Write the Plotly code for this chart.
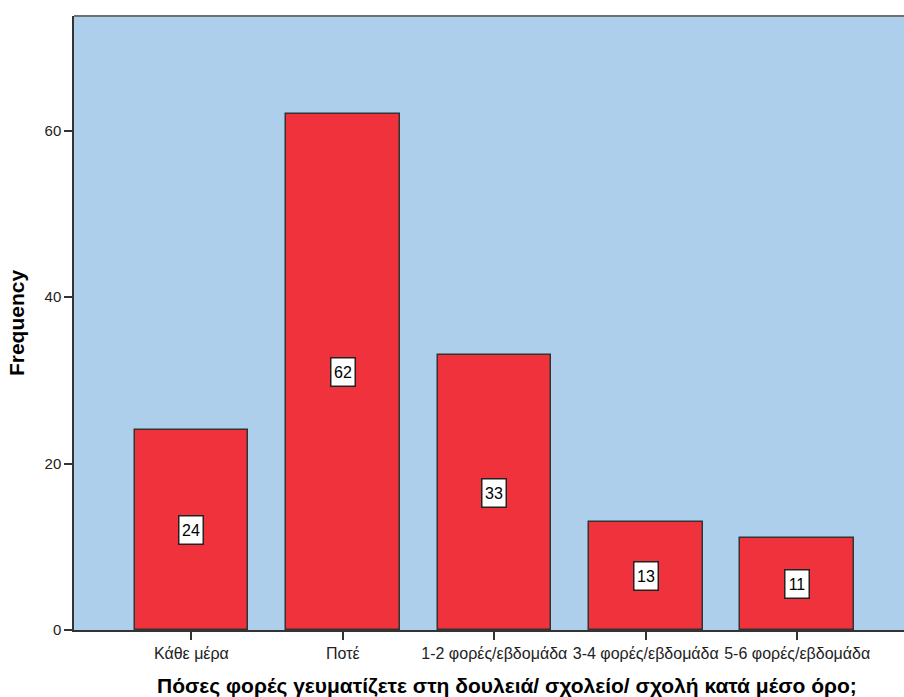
import plotly.graph_objects as go

categories = ["Κάθε μέρα", "Ποτέ", "1-2 φορές/εβδομάδα", "3-4 φορές/εβδομάδα", "5-6 φορές/εβδομάδα"]
frequency = [24, 62, 33, 13, 11]
y_ticks = [0, 20, 40, 60]
x_title = "Πόσες φορές γευματίζετε στη δουλειά/ σχολείο/ σχολή κατά μέσο όρο;"

x_pos = list(range(len(categories)))
FONT = "Arial, Liberation Sans, sans-serif"

fig = go.Figure()
fig.add_trace(go.Bar(
    x=x_pos,
    y=frequency,
    width=0.75,
    marker=dict(color="#EF323B", line=dict(color="#333333", width=1.5)),
    hoverinfo="skip",
))

# value boxes at the middle of each bar
for xi, v in zip(x_pos, frequency):
    fig.add_annotation(
        x=xi, y=v / 2, text=str(v), showarrow=False,
        font=dict(family=FONT, size=16, color="black"),
        width=18, height=22,
        bgcolor="white", bordercolor="#222222", borderwidth=1.5, borderpad=2.5,
    )

# x-axis title placed as a free annotation below the tick labels
fig.add_annotation(
    xref="paper", yref="paper", x=0.522, y=-0.091,
    xanchor="center", yanchor="middle", showarrow=False,
    text="<b>" + x_title + "</b>",
    font=dict(family=FONT, size=21, color="black"),
)

fig.update_layout(
    width=904, height=697,
    margin=dict(l=74, r=0, t=16, b=67),
    paper_bgcolor="white",
    plot_bgcolor="#ADCFEC",
    showlegend=False,
    bargap=0,
    xaxis=dict(
        range=[-0.775, 4.705],
        tickmode="array", tickvals=x_pos, ticktext=categories,
        ticks="outside", ticklen=8, tickwidth=1.5, tickcolor="#333333",
        showline=True, linecolor="#333333", linewidth=1.5, mirror=False,
        showgrid=False, zeroline=False,
        tickfont=dict(family=FONT, size=16, color="#222222"),
    ),
    yaxis=dict(
        range=[0, 73.8],
        tickmode="array", tickvals=y_ticks,
        ticks="outside", ticklen=8, tickwidth=1.5, tickcolor="#333333",
        showline=True, linecolor="#333333", linewidth=1.5,
        showgrid=False, zeroline=False,
        tickfont=dict(family=FONT, size=15, color="#222222"),
        title=dict(text="<b>Frequency</b>",
                   font=dict(family=FONT, size=21, color="black"),
                   standoff=14),
    ),
)

# top frame line of the plotting area
fig.add_shape(type="line", xref="paper", yref="paper", x0=0, x1=1, y0=1, y1=1,
              line=dict(color="#707070", width=2))

fig.write_html("out.html")
